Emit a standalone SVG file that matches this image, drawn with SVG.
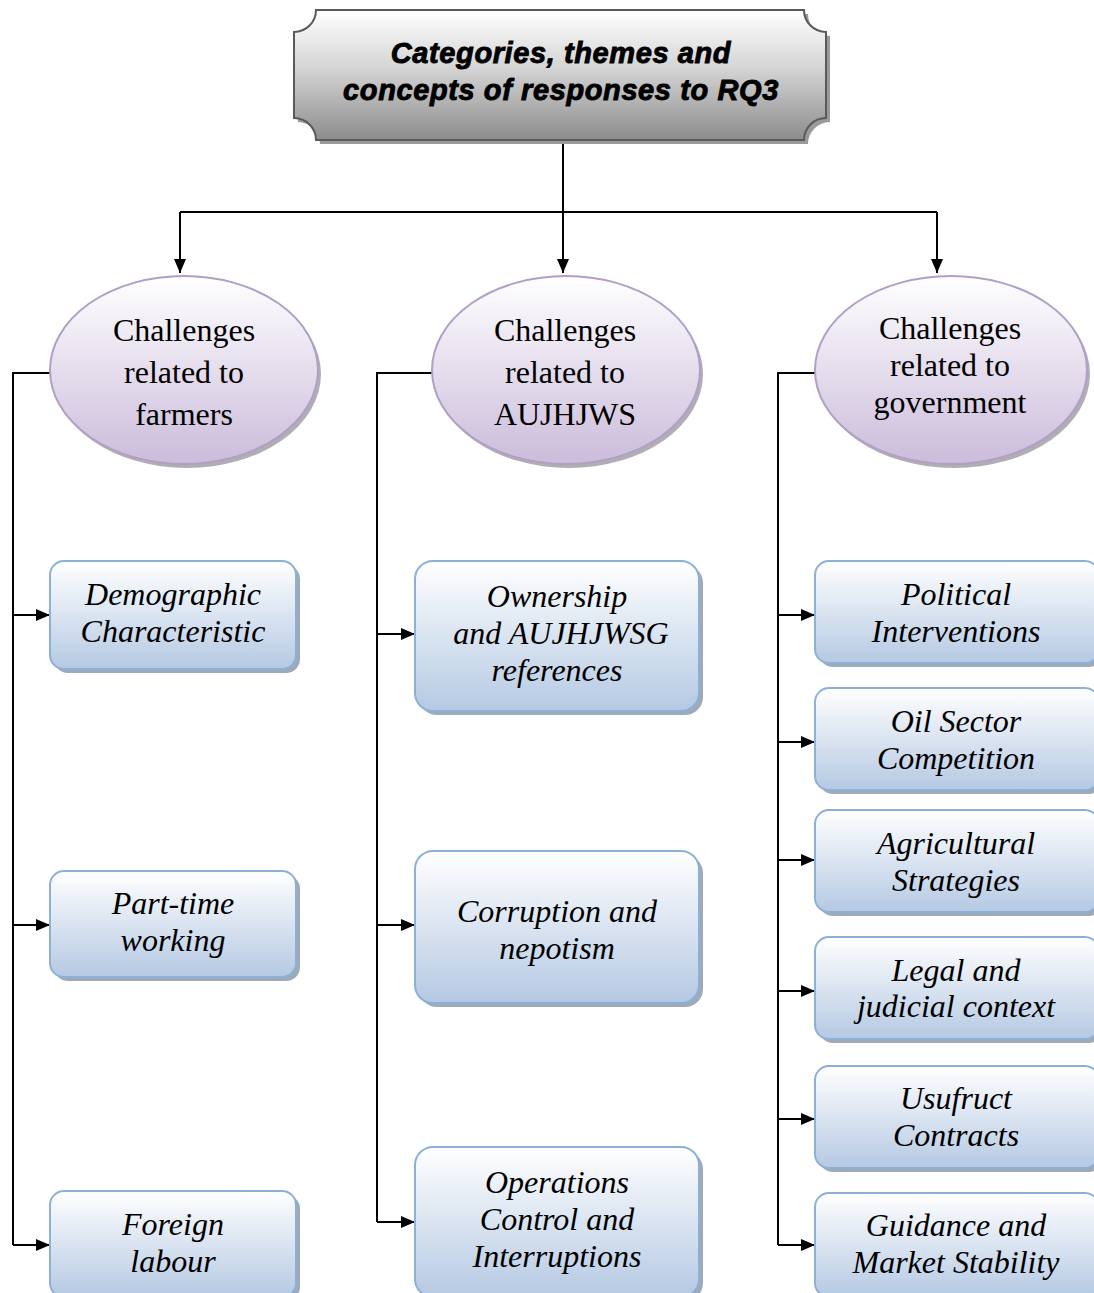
<svg xmlns="http://www.w3.org/2000/svg" width="1094" height="1293" viewBox="0 0 1094 1293">
  <defs>
    <linearGradient id="gTitle" x1="0" y1="0" x2="0" y2="1">
      <stop offset="0" stop-color="#ffffff"/>
      <stop offset="0.45" stop-color="#d4d4d4"/>
      <stop offset="1" stop-color="#8c8c8c"/>
    </linearGradient>
    <linearGradient id="gOval" x1="0" y1="0" x2="0" y2="1">
      <stop offset="0" stop-color="#ffffff"/>
      <stop offset="1" stop-color="#cbbcdb"/>
    </linearGradient>
    <linearGradient id="gBox" x1="0" y1="0" x2="0" y2="1">
      <stop offset="0" stop-color="#ffffff"/>
      <stop offset="1" stop-color="#b5c9e3"/>
    </linearGradient>
    <marker id="arr" viewBox="0 0 14 12" refX="14" refY="6" markerWidth="14" markerHeight="12" markerUnits="userSpaceOnUse" orient="auto">
      <path d="M0,0 L14,6 L0,12 z" fill="#000"/>
    </marker>
  </defs>
  <style>
    .link { fill: none; stroke: #000; stroke-width: 2; }
    .oval { fill: url(#gOval); stroke: #b19fc6; stroke-width: 2; }
    .ovalShadow { fill: #8e8a93; opacity: 0.7; }
    .box { fill: url(#gBox); stroke: #8db0d9; stroke-width: 2; }
    .boxShadow { fill: #7f8da0; opacity: 0.75; }
    .ovalText { font-family: "Liberation Serif", "Times New Roman", serif; font-size: 32px; fill: #000; text-anchor: middle; }
    .boxText { font-family: "Liberation Serif", "Times New Roman", serif; font-style: italic; font-size: 32px; fill: #000; text-anchor: middle; }
    .titleText { font-family: "Liberation Sans", Arial, sans-serif; font-weight: bold; font-style: italic; font-size: 29px; letter-spacing: 0.6px; stroke: #000; stroke-width: 0.9; fill: #000; text-anchor: middle; }
  </style>

  <!-- Connectors -->
  <g id="connectors">
    <path class="link" d="M563,140 V212"/>
    <path class="link" d="M180,212 H937"/>
    <path class="link" d="M180,212 V273" marker-end="url(#arr)"/>
    <path class="link" d="M563,212 V273" marker-end="url(#arr)"/>
    <path class="link" d="M937,212 V273" marker-end="url(#arr)"/>

    <path class="link" d="M50,373 H13 V1245"/>
    <path class="link" d="M13,615 H50" marker-end="url(#arr)"/>
    <path class="link" d="M13,925 H50" marker-end="url(#arr)"/>
    <path class="link" d="M13,1245 H50" marker-end="url(#arr)"/>

    <path class="link" d="M432,373 H377 V1222"/>
    <path class="link" d="M377,634 H415" marker-end="url(#arr)"/>
    <path class="link" d="M377,925 H415" marker-end="url(#arr)"/>
    <path class="link" d="M377,1222 H415" marker-end="url(#arr)"/>

    <path class="link" d="M815,373 H778 V1245"/>
    <path class="link" d="M778,615 H815" marker-end="url(#arr)"/>
    <path class="link" d="M778,742 H815" marker-end="url(#arr)"/>
    <path class="link" d="M778,860 H815" marker-end="url(#arr)"/>
    <path class="link" d="M778,991 H815" marker-end="url(#arr)"/>
    <path class="link" d="M778,1119 H815" marker-end="url(#arr)"/>
    <path class="link" d="M778,1245 H815" marker-end="url(#arr)"/>
  </g>

  <!-- Title plaque -->
  <g id="title">
    <path transform="translate(4,4)" fill="#9a9a9a" d="M316,10 H804 A22,22 0 0 0 826,32 V118 A22,22 0 0 0 804,140 H316 A22,22 0 0 0 294,118 V32 A22,22 0 0 0 316,10 Z"/>
    <path fill="url(#gTitle)" stroke="#5a5a5a" stroke-width="2" d="M316,10 H804 A22,22 0 0 0 826,32 V118 A22,22 0 0 0 804,140 H316 A22,22 0 0 0 294,118 V32 A22,22 0 0 0 316,10 Z"/>
    <text class="titleText" x="561" y="63">Categories, themes and</text>
    <text class="titleText" x="561" y="100">concepts of responses to RQ3</text>
  </g>

  <!-- Category ovals -->
  <g id="cat-farmers">
    <ellipse class="ovalShadow" cx="187" cy="374" rx="134" ry="94"/>
    <ellipse class="oval" cx="184" cy="370" rx="134" ry="94"/>
    <text class="ovalText" x="184" y="341">Challenges</text>
    <text class="ovalText" x="184" y="383">related to</text>
    <text class="ovalText" x="184" y="425">farmers</text>
  </g>
  <g id="cat-aujhjws">
    <ellipse class="ovalShadow" cx="569" cy="374" rx="134" ry="94"/>
    <ellipse class="oval" cx="566" cy="370" rx="134" ry="94"/>
    <text class="ovalText" x="565" y="341">Challenges</text>
    <text class="ovalText" x="565" y="383">related to</text>
    <text class="ovalText" x="565" y="425">AUJHJWS</text>
  </g>
  <g id="cat-government">
    <ellipse class="ovalShadow" cx="954" cy="374" rx="136" ry="94"/>
    <ellipse class="oval" cx="951" cy="370" rx="136" ry="94"/>
    <text class="ovalText" x="950" y="339">Challenges</text>
    <text class="ovalText" x="950" y="376">related to</text>
    <text class="ovalText" x="950" y="413">government</text>
  </g>

  <!-- Farmers column -->
  <g id="demographic">
    <rect class="boxShadow" x="54" y="565" width="246" height="108" rx="14"/>
    <rect class="box" x="50" y="561" width="246" height="108" rx="14"/>
    <text class="boxText" x="173" y="605">Demographic</text>
    <text class="boxText" x="173" y="642">Characteristic</text>
  </g>
  <g id="part-time">
    <rect class="boxShadow" x="54" y="875" width="246" height="106" rx="14"/>
    <rect class="box" x="50" y="871" width="246" height="106" rx="14"/>
    <text class="boxText" x="173" y="914">Part-time</text>
    <text class="boxText" x="173" y="951">working</text>
  </g>
  <g id="foreign-labour">
    <rect class="boxShadow" x="54" y="1195" width="246" height="106" rx="14"/>
    <rect class="box" x="50" y="1191" width="246" height="106" rx="14"/>
    <text class="boxText" x="173" y="1235">Foreign</text>
    <text class="boxText" x="173" y="1272">labour</text>
  </g>

  <!-- AUJHJWS column -->
  <g id="ownership">
    <rect class="boxShadow" x="419" y="565" width="284" height="150" rx="18"/>
    <rect class="box" x="415" y="561" width="284" height="150" rx="18"/>
    <text class="boxText" x="557" y="607">Ownership</text>
    <text class="boxText" x="561" y="644">and AUJHJWSG</text>
    <text class="boxText" x="557" y="681">references</text>
  </g>
  <g id="corruption">
    <rect class="boxShadow" x="419" y="855" width="284" height="152" rx="18"/>
    <rect class="box" x="415" y="851" width="284" height="152" rx="18"/>
    <text class="boxText" x="557" y="922">Corruption and</text>
    <text class="boxText" x="557" y="959">nepotism</text>
  </g>
  <g id="operations">
    <rect class="boxShadow" x="419" y="1151" width="284" height="150" rx="18"/>
    <rect class="box" x="415" y="1147" width="284" height="150" rx="18"/>
    <text class="boxText" x="557" y="1193">Operations</text>
    <text class="boxText" x="557" y="1230">Control and</text>
    <text class="boxText" x="557" y="1267">Interruptions</text>
  </g>

  <!-- Government column -->
  <g id="political">
    <rect class="boxShadow" x="819" y="565" width="284" height="102" rx="14"/>
    <rect class="box" x="815" y="561" width="284" height="102" rx="14"/>
    <text class="boxText" x="956" y="605">Political</text>
    <text class="boxText" x="956" y="642">Interventions</text>
  </g>
  <g id="oil-sector">
    <rect class="boxShadow" x="819" y="692" width="284" height="102" rx="14"/>
    <rect class="box" x="815" y="688" width="284" height="102" rx="14"/>
    <text class="boxText" x="956" y="732">Oil Sector</text>
    <text class="boxText" x="956" y="769">Competition</text>
  </g>
  <g id="agricultural">
    <rect class="boxShadow" x="819" y="814" width="284" height="102" rx="14"/>
    <rect class="box" x="815" y="810" width="284" height="102" rx="14"/>
    <text class="boxText" x="956" y="854">Agricultural</text>
    <text class="boxText" x="956" y="891">Strategies</text>
  </g>
  <g id="legal">
    <rect class="boxShadow" x="819" y="941" width="284" height="102" rx="14"/>
    <rect class="box" x="815" y="937" width="284" height="102" rx="14"/>
    <text class="boxText" x="956" y="981">Legal and</text>
    <text class="boxText" x="956" y="1017">judicial context</text>
  </g>
  <g id="usufruct">
    <rect class="boxShadow" x="819" y="1070" width="284" height="102" rx="14"/>
    <rect class="box" x="815" y="1066" width="284" height="102" rx="14"/>
    <text class="boxText" x="956" y="1109">Usufruct</text>
    <text class="boxText" x="956" y="1146">Contracts</text>
  </g>
  <g id="guidance">
    <rect class="boxShadow" x="819" y="1197" width="284" height="104" rx="14"/>
    <rect class="box" x="815" y="1193" width="284" height="104" rx="14"/>
    <text class="boxText" x="956" y="1236">Guidance and</text>
    <text class="boxText" x="956" y="1273">Market Stability</text>
  </g>
</svg>
